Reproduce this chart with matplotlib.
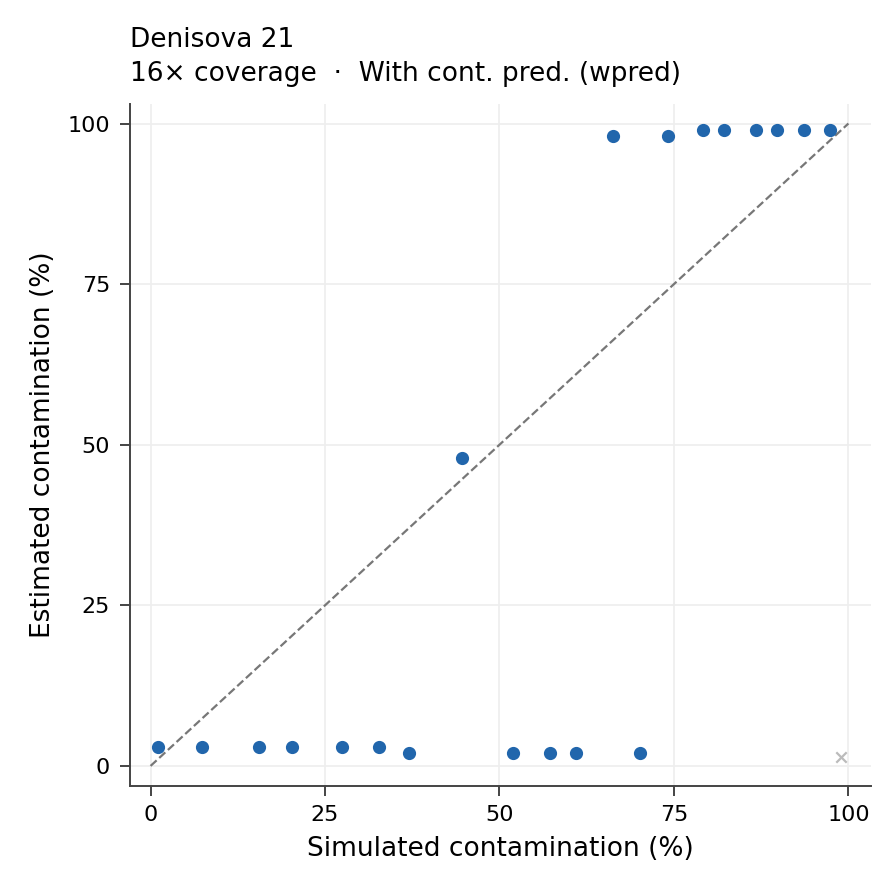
import matplotlib
matplotlib.use("Agg")
import matplotlib.pyplot as plt

# simulated vs estimated contamination (%)
sim_x = [1.1, 7.4, 15.6, 20.3, 27.5, 32.8, 37.0, 44.6, 52.0, 57.3, 61.0, 70.1,
         66.2, 74.2, 79.2, 82.2, 86.8, 89.8, 93.6, 97.3]
est_y = [3, 3, 3, 3, 3, 3, 2, 48, 2, 2, 2, 2,
         98, 98, 99, 99, 99, 99, 99, 99]
fail_x = [99.0]
fail_y = [1.4]

fig = plt.figure(figsize=(4.47, 4.465), dpi=200)
ax = fig.add_axes([0.145, 0.120, 0.829, 0.764])

ax.plot([0, 100], [0, 100], ls='--', color='#777777', lw=0.8, zorder=1)
ax.scatter(sim_x, est_y, s=14, color='#2166ac', zorder=3)
ax.scatter(fail_x, fail_y, s=14, marker='x', color='#bbbbbb', lw=0.8, zorder=3)

ax.set_xlim(-3, 103.2)
ax.set_ylim(-3.1, 103.1)
ax.set_xticks([0, 25, 50, 75, 100])
ax.set_yticks([0, 25, 50, 75, 100])
ax.grid(color='#eeeeee', lw=0.6)
ax.set_axisbelow(True)
for s in ['top', 'right']:
    ax.spines[s].set_visible(False)
for s in ['left', 'bottom']:
    ax.spines[s].set_color('#444444')
    ax.spines[s].set_linewidth(0.7)
ax.tick_params(labelsize=8, width=0.7, length=3.5, color='#444444')
ax.set_xlabel('Simulated contamination (%)', fontsize=9.5)
ax.set_ylabel('Estimated contamination (%)', fontsize=9.5)

fig.text(0.145, 0.955, 'Denisova 21', fontsize=9.5, va='center')
fig.text(0.145, 0.917, '16× coverage  ·  With cont. pred. (wpred)', fontsize=9.5, va='center')

fig.savefig('out.png', dpi=200)
